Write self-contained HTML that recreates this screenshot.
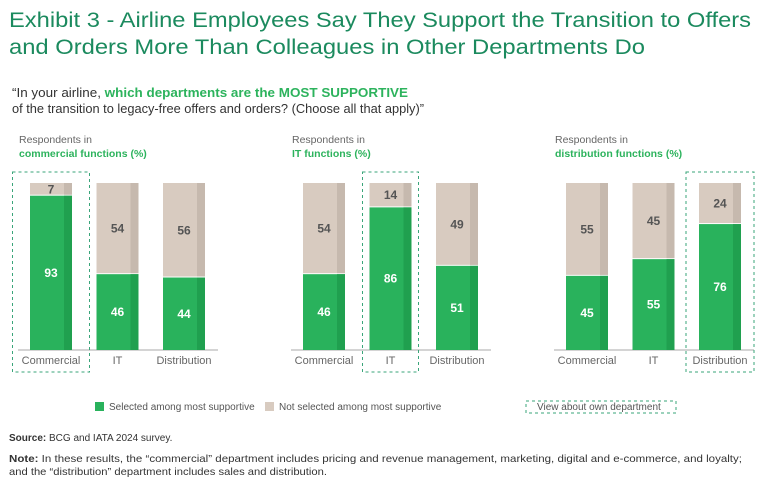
<!DOCTYPE html>
<html><head><meta charset="utf-8"><style>
html,body{margin:0;padding:0;background:#fff;}
svg{display:block;font-family:"Liberation Sans",sans-serif;}
</style></head><body>
<svg id="chart" width="768" height="491" viewBox="0 0 768 491">
<text x="9" y="27" font-size="21.5" fill="#1b8a5e" textLength="742" lengthAdjust="spacingAndGlyphs">Exhibit 3 - Airline Employees Say They Support the Transition to Offers</text>
<text x="9" y="54" font-size="21.5" fill="#1b8a5e" textLength="636" lengthAdjust="spacingAndGlyphs">and Orders More Than Colleagues in Other Departments Do</text>
<text x="12" y="97" font-size="13" fill="#333" textLength="396" lengthAdjust="spacingAndGlyphs">“In your airline, <tspan fill="#2db35d" font-weight="bold">which departments are the MOST SUPPORTIVE</tspan></text>
<text x="12" y="113" font-size="13" fill="#333" textLength="412" lengthAdjust="spacingAndGlyphs">of the transition to legacy-free offers and orders? (Choose all that apply)”</text>
<g id="panels"></g>
<g>
<rect x="95" y="402" width="9" height="9" fill="#29b25c"/>
<text x="109" y="410" font-size="10" fill="#555">Selected among most supportive</text>
<rect x="265" y="402" width="9" height="9" fill="#d8cbc0"/>
<text x="279" y="410" font-size="10" fill="#555">Not selected among most supportive</text>
<rect x="526" y="401" width="150" height="12" fill="none" stroke="#3aa57a" stroke-dasharray="3,3"/>
<text x="537" y="410" font-size="10" fill="#555">View about own department</text>
</g>
<text x="9" y="441" font-size="10" fill="#333"><tspan font-weight="bold">Source:</tspan> BCG and IATA 2024 survey.</text>
<text x="9" y="462" font-size="10.5" fill="#333" textLength="733" lengthAdjust="spacingAndGlyphs"><tspan font-weight="bold">Note:</tspan> In these results, the “commercial” department includes pricing and revenue management, marketing, digital and e-commerce, and loyalty;</text>
<text x="9" y="475" font-size="10.5" fill="#333" textLength="318" lengthAdjust="spacingAndGlyphs">and the “distribution” department includes sales and distribution.</text>
</svg>
<script>
const categories = ["Commercial", "IT", "Distribution"];
const commercialSelected = [93, 46, 44];
const itSelected = [46, 86, 51];
const distributionSelected = [45, 55, 76];
const panelTitles = ["commercial functions (%)", "IT functions (%)", "distribution functions (%)"];
const ownDepartment = [0, 1, 2];

const NS = "http://www.w3.org/2000/svg";
const root = document.getElementById("panels");
const panelOffsets = [0, 273, 536];
const baseY = 350, fullH = 167;
function yScale(v){ return baseY - v / 100 * fullH; }
function hScale(v){ return v / 100 * fullH; }
function mk(tag, attrs, parent){ const e = document.createElementNS(NS, tag); for (const k in attrs) e.setAttribute(k, attrs[k]); parent.appendChild(e); return e; }

const allSeries = [commercialSelected, itSelected, distributionSelected];
allSeries.forEach((series, p) => {
  const ox = panelOffsets[p];
  const g = mk("g", {}, root);
  
  
  const t1 = mk("text", {x: ox + 19, y: 143, "font-size": 10.5, fill: "#666"}, g);
  t1.textContent = "Respondents in";
  
  
  const t2 = mk("text", {x: ox + 19, y: 157, "font-size": 10.5, fill: "#2db35d", "font-weight": "bold"}, g);
  t2.textContent = panelTitles[p];
  
  
  const ax = mk("line", {x1: ox + 18, x2: ox + 218, y1: baseY, y2: baseY, stroke: "#aaa", "stroke-width": 1}, g);
  
  
  series.forEach((v, i) => {
    const bx = ox + 30 + i * 66.5, bw = 42;
    const rest = 100 - v;
    const r1 = mk("rect", {x: bx, y: yScale(100), width: bw, height: hScale(rest), fill: "#d8cbc0"}, g);
    
    
    const r1s = mk("rect", {x: bx + bw - 8, y: yScale(100), width: 8, height: hScale(rest), fill: "#c6b9ae"}, g);
    
    
    const r2 = mk("rect", {x: bx, y: yScale(v) + 1, width: bw, height: hScale(v) - 1, fill: "#29b25c"}, g);
    
    
    const r2s = mk("rect", {x: bx + bw - 8, y: yScale(v) + 1, width: 8, height: hScale(v) - 1, fill: "#20a04f"}, g);
    
    
    const l1 = mk("text", {x: bx + 21, y: (yScale(100) + yScale(v)) / 2 + 4.5, "font-size": 12, "font-weight": "bold", fill: "#555", "text-anchor": "middle"}, g);
    l1.textContent = rest;
    
    
    const l2 = mk("text", {x: bx + 21, y: (yScale(v) + baseY) / 2 + 4.5, "font-size": 12, "font-weight": "bold", fill: "#fff", "text-anchor": "middle"}, g);
    l2.textContent = v;
    
    
    const cl = mk("text", {x: bx + 21, y: 364, "font-size": 11, fill: "#666", "text-anchor": "middle"}, g);
    cl.textContent = categories[i];
    
    
    if (ownDepartment[p] === i) {
      const w = i === 0 ? 77 : (i === 1 ? 56 : 68);
      const bxx = bx + 21 - w / 2;
      const box = mk("rect", {x: bxx, y: 172, width: w, height: 200, fill: "none", stroke: "#3aa57a", "stroke-dasharray": "3,3", "stroke-width": 1}, g);
      
      
    }
  });
});
</script>
</body></html>
